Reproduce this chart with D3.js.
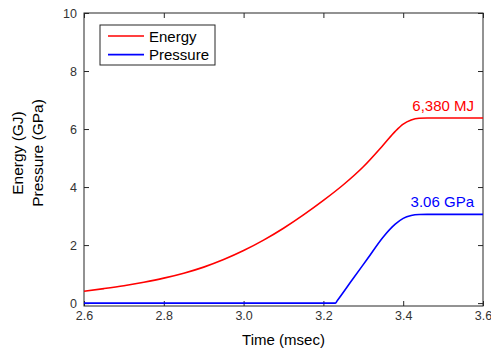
<html>
<head>
  <script src="https://cdnjs.cloudflare.com/ajax/libs/d3/7.8.5/d3.min.js"></script>
  <style>
    body { margin: 0; background: #fff; }
    svg { font-family: "Liberation Sans", Arial, sans-serif; }
  </style>
</head>
<body>
  <svg id="chart" width="491" height="351"></svg>
  <script>
    // energy curve (GJ)
    var energyT = [2.6, 2.65, 2.7, 2.75, 2.8, 2.85, 2.9, 2.95, 3.0, 3.05, 3.1, 3.15, 3.2, 3.25, 3.3, 3.35, 3.38, 3.4, 3.42, 3.44, 3.46, 3.6];
    var energyV = [0.41, 0.50, 0.60, 0.72, 0.86, 1.03, 1.24, 1.50, 1.81, 2.17, 2.58, 3.04, 3.54, 4.08, 4.70, 5.45, 5.92, 6.17, 6.31, 6.37, 6.38, 6.38];
    // pressure curve (GPa)
    var pressureT = [2.6, 3.23, 3.235, 3.27, 3.31, 3.35, 3.38, 3.4, 3.42, 3.44, 3.46, 3.6];
    var pressureV = [0, 0, 0.09, 0.76, 1.52, 2.28, 2.72, 2.92, 3.02, 3.055, 3.06, 3.06];
    var xTicks = [2.6, 2.8, 3.0, 3.2, 3.4, 3.6];
    var yTicks = [0, 2, 4, 6, 8, 10];
    var seriesNames = ["Energy", "Pressure"];
    var seriesColors = ["#ff0000", "#0000ff"];
    var endLabels = ["6,380 MJ", "3.06 GPa"];

    var svg = d3.select("#chart");
    var pLeft = 84, pRight = 483, pTop = 13, pBottom = 306;
    var axisColor = "#262626";

    var x = d3.scaleLinear().domain([2.6, 3.6]).range([pLeft, pRight]);
    var y = d3.scaleLinear().domain([-0.1, 10]).range([pBottom, pTop]);

    function styleAxis(g) {
      g.select(".domain").remove();
      g.selectAll("line").attr("stroke", axisColor);
      g.selectAll("text").attr("fill", "#333").style("font-size", "12.5px");
    }

    svg.append("g").attr("transform", "translate(0," + pBottom + ")")
      .call(d3.axisBottom(x).tickValues(xTicks).tickFormat(d3.format(".1f")).tickSize(-5).tickPadding(5))
      .call(styleAxis);
    svg.append("g").attr("transform", "translate(0," + pTop + ")")
      .call(d3.axisTop(x).tickValues(xTicks).tickSize(-5).tickFormat(""))
      .call(styleAxis);
    svg.append("g").attr("transform", "translate(" + pLeft + ",0)")
      .call(d3.axisLeft(y).tickValues(yTicks).tickSize(-5).tickPadding(7))
      .call(styleAxis);
    svg.append("g").attr("transform", "translate(" + pRight + ",0)")
      .call(d3.axisRight(y).tickValues(yTicks).tickSize(-5).tickFormat(""))
      .call(styleAxis);

    svg.append("rect")
      .attr("x", pLeft).attr("y", pTop)
      .attr("width", pRight - pLeft).attr("height", pBottom - pTop)
      .attr("fill", "none").attr("stroke", axisColor).attr("stroke-width", 1);

    var line = d3.line().x(d => x(d[0])).y(d => y(d[1])).curve(d3.curveMonotoneX);
    var series = [
      d3.zip(energyT, energyV),
      d3.zip(pressureT, pressureV)
    ];
    series.forEach(function (s, i) {
      svg.append("path")
        .datum(s)
        .attr("d", line)
        .attr("fill", "none")
        .attr("stroke", seriesColors[i])
        .attr("stroke-width", 1.6);
      var last = s[s.length - 1];
      svg.append("text")
        .attr("x", x(last[0]) - 9)
        .attr("y", y(last[1]) - 7)
        .attr("text-anchor", "end")
        .attr("fill", seriesColors[i])
        .style("font-size", "15px")
        .text(endLabels[i]);
    });

    // axis titles
    svg.append("text")
      .attr("x", (pLeft + pRight) / 2).attr("y", 345)
      .attr("text-anchor", "middle")
      .style("font-size", "15px")
      .text("Time (msec)");
    var yt = svg.append("text")
      .attr("transform", "translate(0,153) rotate(-90)")
      .attr("text-anchor", "middle")
      .style("font-size", "15.5px");
    yt.append("tspan").attr("x", 0).attr("y", 23).text("Energy (GJ)");
    yt.append("tspan").attr("x", 0).attr("y", 43).text("Pressure (GPa)");

    // legend
    var lg = svg.append("g").attr("transform", "translate(100,25)");
    lg.append("rect").attr("width", 115).attr("height", 40)
      .attr("fill", "#fff").attr("stroke", axisColor);
    seriesNames.forEach(function (n, i) {
      lg.append("line")
        .attr("x1", 8).attr("x2", 44)
        .attr("y1", 11 + i * 18.6).attr("y2", 11 + i * 18.6)
        .attr("stroke", seriesColors[i]).attr("stroke-width", 1.6);
      lg.append("text")
        .attr("x", 49).attr("y", 16.5 + i * 18.6)
        .style("font-size", "15px")
        .text(n);
    });
  </script>
</body>
</html>
